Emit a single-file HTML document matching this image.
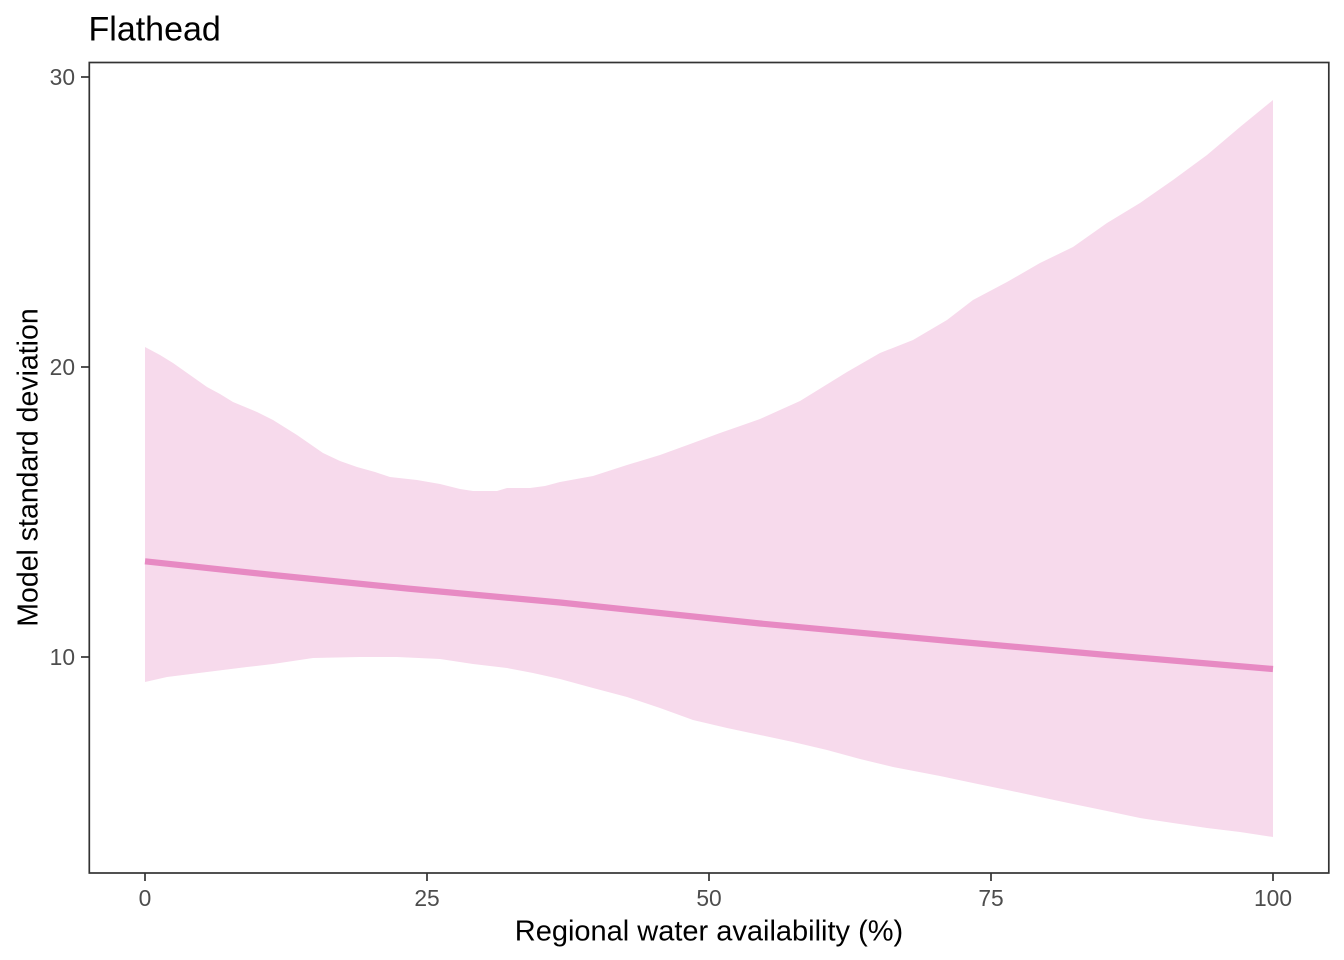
<!DOCTYPE html>
<html>
<head>
<meta charset="utf-8">
<style>
  html, body { margin: 0; padding: 0; background: #ffffff; }
  svg { display: block; }
  text { font-family: "Liberation Sans", Arial, sans-serif; }
</style>
</head>
<body>
<svg width="1344" height="960" viewBox="0 0 1344 960" xmlns="http://www.w3.org/2000/svg">
  <rect x="0" y="0" width="1344" height="960" fill="#ffffff"/>

  <!-- ribbon -->
  <polygon fill="#F7DAEC" points="
    145,347 160,355 173,363 190,375 207,387 220,394 233,402 257,412 273,420 297,435
    323,453 340,461 357,467 375,472 390,477 417,480 440,484 460,489 473,491 497,491
    507,488 530,488 545,486 560,482 593,476 627,465 660,455 693,443 720,433 743,425
    760,419 780,410 800,401 813,393 847,372 880,353 913,340 947,320 973,300 1007,282
    1040,263 1073,247 1107,223 1140,203 1173,180 1207,155 1240,127 1273,100
    1273,837 1240,832 1207,828 1173,823 1140,818 1107,811 1073,804 1040,797 1007,790
    973,783 940,776 893,767 860,759 827,750 793,742 760,735 727,728 693,720
    660,708 627,697 593,688 560,679 533,673 507,668 473,664 440,659 397,657 360,657
    313,658 273,664 247,667 207,672 167,677 145,682"/>

  <!-- fitted line -->
  <polyline fill="none" stroke="#E78AC3" stroke-width="6.2" stroke-linejoin="round"
    points="145,561.3 273,575 407,588.5 560,602.5 760,623.5 950,641 1107,655 1273,669"/>

  <!-- panel border -->
  <rect x="89.3" y="62.5" width="1239.5" height="810.5" fill="none" stroke="#333333" stroke-width="1.7"/>

  <!-- y ticks -->
  <g stroke="#333333" stroke-width="1.7">
    <line x1="81" y1="77" x2="89" y2="77"/>
    <line x1="81" y1="367" x2="89" y2="367"/>
    <line x1="81" y1="657" x2="89" y2="657"/>
  </g>
  <g fill="#4D4D4D" font-size="22.8" text-anchor="end">
    <text x="75" y="85.2">30</text>
    <text x="75" y="375.2">20</text>
    <text x="75" y="665.2">10</text>
  </g>

  <!-- x ticks -->
  <g stroke="#333333" stroke-width="1.7">
    <line x1="145" y1="873" x2="145" y2="881"/>
    <line x1="427" y1="873" x2="427" y2="881"/>
    <line x1="709" y1="873" x2="709" y2="881"/>
    <line x1="991" y1="873" x2="991" y2="881"/>
    <line x1="1273" y1="873" x2="1273" y2="881"/>
  </g>
  <g fill="#4D4D4D" font-size="22.8" text-anchor="middle">
    <text x="145" y="906">0</text>
    <text x="427" y="906">25</text>
    <text x="709" y="906">50</text>
    <text x="991" y="906">75</text>
    <text x="1273" y="906">100</text>
  </g>

  <!-- axis titles -->
  <text x="709" y="940.5" font-size="29" fill="#000000" text-anchor="middle">Regional water availability (%)</text>
  <text transform="translate(37.5,467.5) rotate(-90)" x="0" y="0" font-size="28.5" fill="#000000" text-anchor="middle">Model standard deviation</text>

  <!-- plot title -->
  <text x="88.5" y="40.7" font-size="34" fill="#000000">Flathead</text>
</svg>
</body>
</html>
